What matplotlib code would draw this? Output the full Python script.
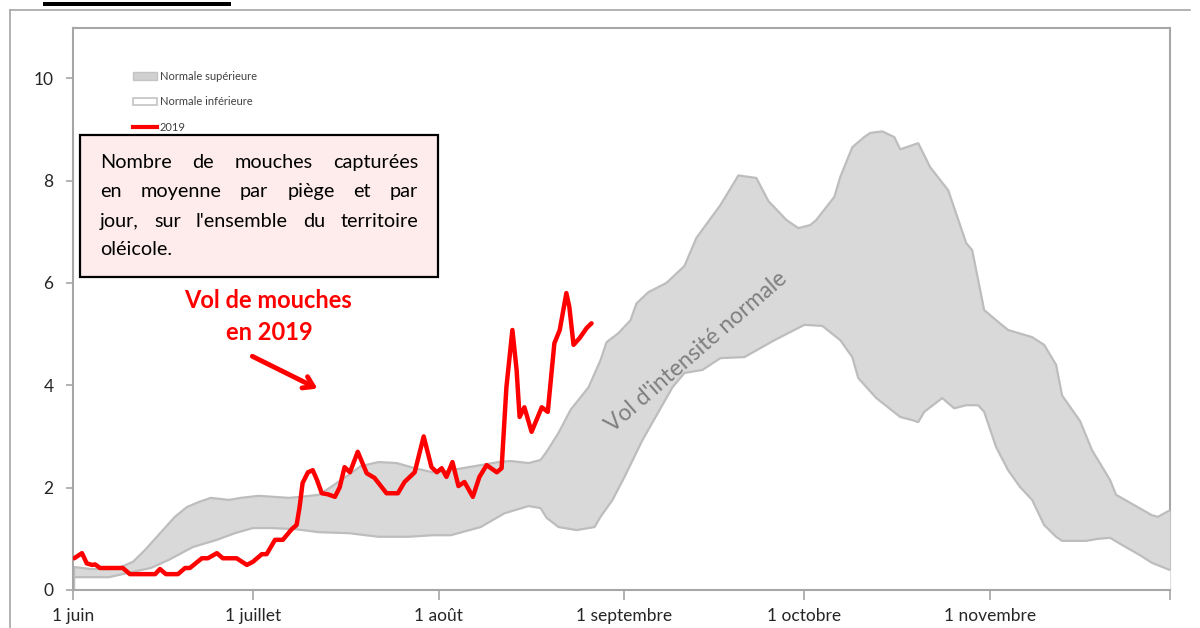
import matplotlib.pyplot as plt
from matplotlib.patches import Patch, Rectangle
from matplotlib.lines import Line2D

plt.rcParams['font.family'] = ['Lato', 'DejaVu Sans']

# jours comptés depuis le 1er juin
sup_jours = [0, 3, 6, 8, 10, 12, 15, 17, 19, 21, 23, 26, 28, 31, 36, 38, 41, 43, 46, 48,
             51, 54, 57, 60, 62, 65, 68, 71, 73, 76, 78, 79, 81, 83, 86, 88, 89, 91, 93, 94,
             96, 99, 102, 104, 108, 111, 114, 116, 119, 121, 123, 124, 127, 128, 130, 132, 133, 135, 137, 138,
             141, 143, 146, 149, 150, 152, 154, 156, 160, 162, 164, 165, 168, 170, 173, 174, 177, 180, 181, 183]
sup_vals = [0.45, 0.41, 0.41, 0.45, 0.55, 0.78, 1.17, 1.43, 1.62, 1.72, 1.80, 1.76, 1.80, 1.84, 1.80, 1.82, 1.86, 2.01, 2.25, 2.42,
            2.50, 2.48, 2.38, 2.30, 2.32, 2.38, 2.44, 2.50, 2.52, 2.48, 2.54, 2.70, 3.07, 3.52, 3.96, 4.49, 4.84, 5.02, 5.27, 5.60,
            5.82, 6.00, 6.33, 6.88, 7.52, 8.10, 8.05, 7.60, 7.23, 7.07, 7.13, 7.23, 7.68, 8.07, 8.65, 8.85, 8.93, 8.96, 8.85, 8.61,
            8.73, 8.26, 7.81, 6.78, 6.64, 5.47, 5.27, 5.08, 4.94, 4.79, 4.40, 3.80, 3.30, 2.73, 2.15, 1.86, 1.66, 1.46, 1.43, 1.56]

inf_jours = [0, 6, 9, 13, 16, 20, 24, 27, 30, 33, 37, 41, 46, 51, 56, 60, 63, 68, 72, 76,
             78, 79, 81, 84, 87, 88, 90, 92, 95, 100, 102, 105, 108, 112, 117, 121, 122, 125, 128, 130,
             131, 134, 138, 140, 141, 142, 145, 147, 149, 151, 152, 154, 156, 158, 160, 162, 164, 165, 169, 171,
             173, 175, 178, 180, 183]
inf_vals = [0.25, 0.25, 0.33, 0.43, 0.59, 0.84, 0.98, 1.11, 1.21, 1.21, 1.19, 1.13, 1.11, 1.04, 1.04, 1.07, 1.07, 1.23, 1.50, 1.64,
            1.60, 1.41, 1.23, 1.17, 1.23, 1.43, 1.76, 2.21, 2.93, 3.96, 4.24, 4.30, 4.53, 4.55, 4.88, 5.12, 5.18, 5.16, 4.88, 4.55,
            4.14, 3.75, 3.38, 3.32, 3.28, 3.48, 3.75, 3.55, 3.61, 3.61, 3.48, 2.79, 2.34, 2.01, 1.76, 1.27, 1.04, 0.96, 0.96, 1.00,
            1.02, 0.88, 0.68, 0.53, 0.39]

j2019 = [0.2, 1.5, 2.3, 3.2, 3.7, 4.5, 8.3, 9.5, 13.7, 14.5, 15.5, 17.5, 18.7, 19.5, 21.5, 22.5, 24.0, 25.0, 27.3, 29.0,
         30.0, 31.5, 32.3, 33.7, 35.0, 36.5, 37.3, 37.8, 38.3, 39.2, 40.0, 40.7, 41.5, 42.5, 43.7, 44.5, 45.3, 46.2, 47.5, 49.0,
         50.3, 52.3, 54.2, 55.3, 57.0, 58.5, 59.8, 60.7, 61.5, 62.3, 63.3, 64.3, 65.3, 66.7, 67.8, 69.0, 70.7, 71.5, 72.3, 73.3,
         74.0, 74.5, 75.3, 76.5, 78.2, 79.2, 80.3, 81.2, 82.3, 82.8, 83.5, 84.5, 85.7, 86.5]
v2019 = [0.62, 0.72, 0.52, 0.49, 0.50, 0.43, 0.43, 0.31, 0.31, 0.41, 0.31, 0.31, 0.43, 0.43, 0.62, 0.62, 0.72, 0.62, 0.62, 0.49,
         0.55, 0.70, 0.70, 0.98, 0.98, 1.19, 1.27, 1.62, 2.09, 2.30, 2.34, 2.15, 1.89, 1.87, 1.82, 2.01, 2.40, 2.30, 2.70, 2.28,
         2.19, 1.89, 1.89, 2.11, 2.30, 3.00, 2.40, 2.30, 2.38, 2.21, 2.50, 2.03, 2.11, 1.82, 2.21, 2.44, 2.30, 2.38, 3.96, 5.08,
         4.30, 3.38, 3.57, 3.09, 3.57, 3.48, 4.82, 5.08, 5.80, 5.53, 4.79, 4.92, 5.12, 5.21]

mois_pos = [0, 30, 61, 92, 122, 153, 183]
mois_lab = ['1 juin', '1 juillet', '1 août', '1 septembre', '1 octobre', '1 novembre', '']

W, H = 1200, 628
fig = plt.figure(figsize=(12, 6.28), dpi=100)
ax = fig.add_axes([73 / W, 38 / H, 1097 / W, 562 / H])

gris_bord = '#bdbdbd'
ax.fill_between(sup_jours, 0, sup_vals, color='#d9d9d9', lw=0, zorder=3)
ax.fill_between(inf_jours, 0, inf_vals, color='white', lw=0, zorder=3.1)
ax.plot(sup_jours, sup_vals, color=gris_bord, lw=1.6, zorder=4, solid_joinstyle='round')
ax.plot(inf_jours, inf_vals, color=gris_bord, lw=1.6, zorder=4, solid_joinstyle='round')
ax.vlines(sup_jours[0], 0, sup_vals[0], color=gris_bord, lw=2.5, zorder=4)
ax.plot(j2019, v2019, color='#ff0000', lw=3.2, zorder=6,
        solid_joinstyle='round', solid_capstyle='round')

ax.set_xlim(0, 183)
ax.set_ylim(0, 10.98)
ax.set_xticks(mois_pos)
ax.set_xticklabels(mois_lab)
ax.set_yticks([0, 2, 4, 6, 8, 10])
ax.tick_params(axis='y', length=5, width=1.2, color='#a6a6a6', pad=9,
               labelsize=12.5, labelcolor='#262626')
ax.tick_params(axis='x', length=7, width=1.2, color='#a6a6a6', pad=6,
               labelsize=12.5, labelcolor='#262626')
for s in ax.spines.values():
    s.set_color('#a6a6a6')
    s.set_linewidth(1.5)
ax.spines['bottom'].set_zorder(5)
ax.spines['left'].set_zorder(5)

poignees = [Patch(facecolor='#d0d0d0', edgecolor='#c4c4c4', lw=1),
            Patch(facecolor='white', edgecolor='#c4c4c4', lw=1.2),
            Line2D([], [], color='#ff0000', lw=3)]
leg = ax.legend(poignees, ['Normale supérieure', 'Normale inférieure', '2019'],
                loc='upper left', bbox_to_anchor=(60 / 1097, (590 - 71) / 562),
                frameon=False, fontsize=8, labelcolor='#404040',
                handlelength=2.2, handleheight=0.65, handletextpad=0.2,
                labelspacing=1.3, borderpad=0, borderaxespad=0)
leg.set_zorder(7)

# cadre extérieur et trait noir du haut
fig.add_artist(Line2D([10 / W, 10 / W], [0, 1 - 10 / H], color='#a6a6a6', lw=1.2))
fig.add_artist(Line2D([10 / W, 1190 / W], [1 - 10 / H, 1 - 10 / H], color='#a6a6a6', lw=1.2))
fig.add_artist(Rectangle((43 / W, 1 - 6 / H), 188 / W, 4 / H, color='black', lw=0))

# encadré
fig.add_artist(Rectangle((80 / W, 1 - 277 / H), 358 / W, 142 / H, facecolor='#fdeceb',
                         edgecolor='black', lw=1.6, zorder=8))
lignes = ['Nombre de mouches capturées', 'en moyenne par piège et par',
          "jour, sur l'ensemble du territoire", 'oléicole.']
bases = [168, 197, 227, 255]
x0, x1 = 100, 418
renderer = fig.canvas.get_renderer()
for i, (txt, yb) in enumerate(zip(lignes, bases)):
    mots = txt.split()
    arts = [fig.text(0, 1 - yb / H, m, fontsize=14.3, va='baseline', ha='left',
                     color='black', zorder=9) for m in mots]
    larg = [a.get_window_extent(renderer).width for a in arts]
    if i < len(lignes) - 1 and len(mots) > 1:
        ecart = (x1 - x0 - sum(larg)) / (len(mots) - 1)
    else:
        ecart = 5
    x = x0
    for a, w in zip(arts, larg):
        a.set_x(x / W)
        x += w + ecart

# annotations
ax.text(32.5, 5.5, 'Vol de mouches', color='#ff0000', fontsize=17, fontweight='bold',
        ha='center', va='baseline', zorder=8)
ax.text(32.8, 4.88, 'en 2019', color='#ff0000', fontsize=17, fontweight='bold',
        ha='center', va='baseline', zorder=8)
ax.annotate('', xy=(41.2, 3.91), xytext=(29.5, 4.59),
            arrowprops=dict(arrowstyle='->,head_length=0.7,head_width=0.45',
                            color='#ff0000', lw=3.5), zorder=8)
ax.text(104, 4.65, "Vol d'intensité normale", color='#7f7f7f', fontsize=16.5,
        rotation=41, rotation_mode='anchor', ha='center', va='center', zorder=5)

fig.savefig('out.png', dpi=100)
